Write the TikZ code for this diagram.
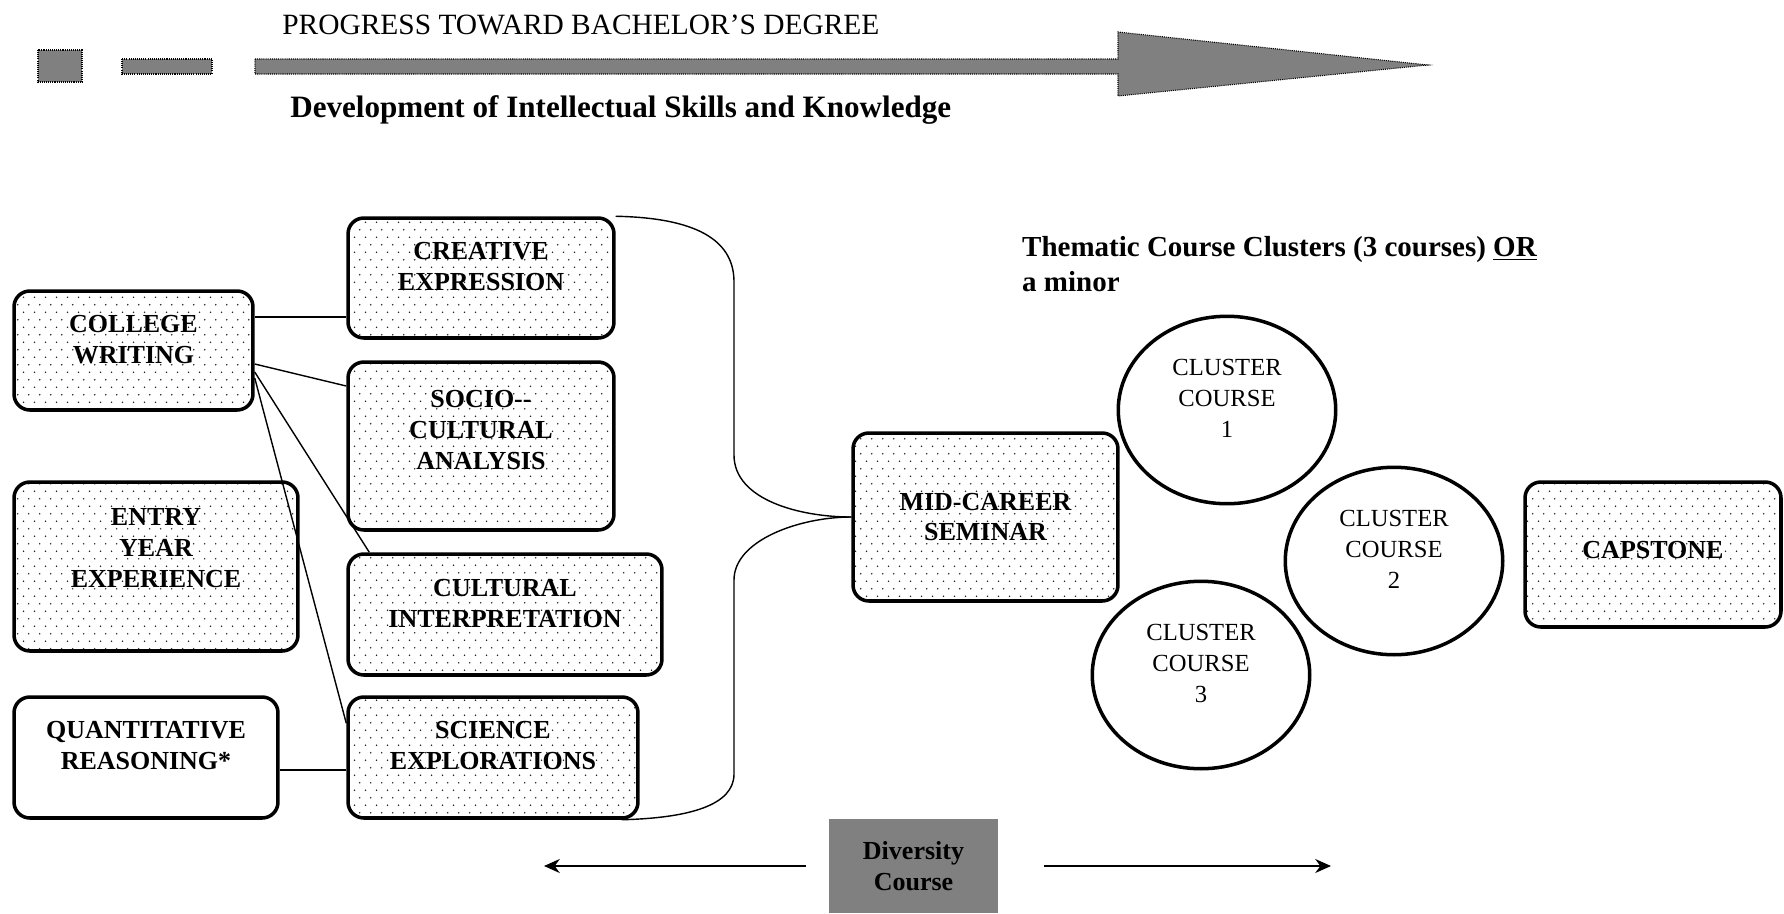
\documentclass[tikz,border=0pt]{standalone}
\usepackage{fontspec}
\setmainfont{Liberation Serif}
\usetikzlibrary{positioning,arrows.meta,shapes.geometric,patterns}
\definecolor{bar}{HTML}{808080}
\definecolor{ink}{HTML}{000000}
% staggered dot screen of the course boxes
\pgfdeclarepatternformonly{stagger}{\pgfpointorigin}{\pgfpoint{6.07pt}{8.5pt}}{\pgfpoint{6.07pt}{8.5pt}}{%
  \pgfpathcircle{\pgfpoint{1.5pt}{2.1pt}}{0.5pt}%
  \pgfpathcircle{\pgfpoint{4.53pt}{6.35pt}}{0.5pt}%
  \pgfusepath{fill}}

\begin{document}
\begin{tikzpicture}[
  x=0.02cm, y=-0.02cm,
  font=\fontsize{14.8}{17.6}\selectfont,
  box/.style={rounded corners=9pt, draw=ink, line width=2pt, align=center, inner sep=2pt,
              font=\bfseries\fontsize{14.8}{17.6}\selectfont},
  course/.style={box, pattern=stagger, pattern color=black!85},
  lift/.style={text depth=#1},
  cluster/.style={ellipse, draw=ink, line width=2pt, align=center, inner sep=0pt,
                  minimum width=4.35cm, minimum height=3.75cm, font=\fontsize{14}{17.6}\selectfont},
  grey/.style={fill=bar, draw=ink, line width=0.6pt, dash pattern=on 0.6pt off 0.6pt},
  link/.style={line width=0.8pt, ink},
  >={Stealth[length=9pt,width=8pt]},
  head/.style={font=\fontsize{16.75}{19}\selectfont, inner sep=0pt}
]
\useasboundingbox (0,0) rectangle (1784,913);

% ---------------------------------------------------------------- progress arrow
\draw[grey] (38,50) rectangle (82,82);
\draw[grey] (122,59) rectangle (212,74);
\draw[grey] (255,59) -- (1118,59) -- (1118,32) -- (1428,65) -- (1118,96) -- (1118,74) -- (255,74) -- cycle;
\node[head, anchor=west] (prog) at (282,25) {PROGRESS TOWARD BACHELOR'S DEGREE};
\node[head, anchor=west, font=\bfseries\fontsize{17.7}{20}\selectfont] (dev) at (290,110)
  {Development of Intellectual Skills and Knowledge};

% ---------------------------------------------------------------- general education
\node[course, lift=0.46cm, minimum width=4.78cm, minimum height=2.38cm] (cw) at (133.5,350.5) {COLLEGE\\WRITING};
\node[course, lift=0.48cm, minimum width=5.32cm, minimum height=2.40cm] (ce) at (481,278) {CREATIVE\\EXPRESSION};
\node[course, lift=0.64cm, minimum width=5.32cm, minimum height=3.36cm] (sca) at (481,446) {SOCIO-{}-\\CULTURAL\\ANALYSIS};
\node[course, lift=0.74cm, minimum width=5.68cm, minimum height=3.38cm] (eye) at (156,566.5) {ENTRY\\YEAR\\EXPERIENCE};
\node[course, lift=0.46cm, minimum width=6.28cm, minimum height=2.42cm] (ci) at (505,614.5) {CULTURAL\\INTERPRETATION};
\node[box, lift=0.50cm, minimum width=5.28cm, minimum height=2.42cm] (qr) at (146,757.5) {QUANTITATIVE\\REASONING*};
\node[course, lift=0.50cm, minimum width=5.80cm, minimum height=2.42cm] (se) at (493,757.5) {SCIENCE\\EXPLORATIONS};

\draw[link] ([yshift=0.67cm]cw.east) -- ([yshift=0.67cm]cw.east -| ce.west);
\draw[link] ([yshift=-0.27cm]cw.east) -- ([yshift=1.2cm]sca.west);
\draw[link] ([yshift=-0.43cm]cw.east) -- ([xshift=0.46cm]ci.north west);
\draw[link] ([yshift=-0.55cm]cw.east) -- ([yshift=-0.56cm]se.north west);
\draw[link] ([yshift=-0.25cm]qr.east) -- ([yshift=-0.25cm]qr.east -| se.west);

% ---------------------------------------------------------------- seminar and clusters
\node[course, minimum width=5.30cm, minimum height=3.36cm] (mcs) at (985.5,517) {MID-CAREER\\SEMINAR};
\draw[link] (ce.north east) .. controls (705,218) and (734,245) .. (734,282) -- (734,455)
  .. controls (734,500) and (800,517) .. (mcs.west);
\draw[link] (mcs.west) .. controls (800,517) and (734,540) .. (734,580) -- (734,774)
  .. controls (734,805) and (690,818) .. ([xshift=-0.36cm]se.south east);

\node[anchor=west, align=left, font=\bfseries\fontsize{16.5}{19.5}\selectfont] (them) at (1016,264)
  {Thematic Course Clusters (3 courses) \underline{OR}\\a minor};
\node[cluster, lift=0.45cm] (cl1) at (1227,410) {CLUSTER\\COURSE\\1};
\node[cluster, lift=0.45cm] (cl2) at (1394,561) {CLUSTER\\COURSE\\2};
\node[cluster, lift=0.45cm] (cl3) at (1201,675) {CLUSTER\\COURSE\\3};
\node[course, lift=0.2cm, minimum width=5.12cm, minimum height=2.90cm] (cap) at (1653,554.5) {CAPSTONE};

% ---------------------------------------------------------------- diversity
\node[fill=bar, align=center, minimum width=3.38cm, minimum height=1.88cm,
      font=\bfseries\fontsize{14.8}{17.6}\selectfont] (div) at (913.5,866) {Diversity\\Course};
\coordinate (dl) at (544,866);
\coordinate (dr) at (1331,866);
\draw[link, ->, shorten <=0.46cm] (div.west) -- (dl);
\draw[link, ->, shorten <=0.92cm] (div.east) -- (dr);
\end{tikzpicture}
\end{document}
